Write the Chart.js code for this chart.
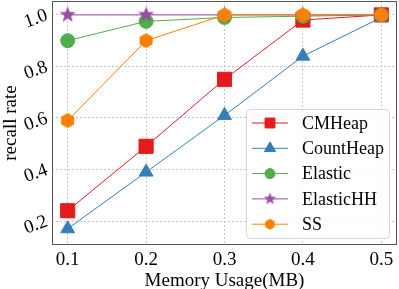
<!DOCTYPE html>
<html>
<head>
<meta charset="utf-8">
<script src="https://cdn.jsdelivr.net/npm/chart.js@4/dist/chart.umd.min.js"></script>
<style>
  html, body { margin: 0; padding: 0; background: #fff; }
  #wrap { width: 399px; height: 289px; }
</style>
</head>
<body>
<div id="wrap"><canvas id="myChart" width="399" height="289"></canvas></div>
<script>
// datos
const memory = [0.1, 0.2, 0.3, 0.4, 0.5];
const xTicks = [0.1, 0.2, 0.3, 0.4, 0.5];
const yTicks = [0.2, 0.4, 0.6, 0.8, 1.0];
const cmHeap = [0.24, 0.49, 0.75, 0.98, 1.0];
const countHeap = [0.17, 0.39, 0.61, 0.84, 0.99];
const elastic = [0.90, 0.975, 0.99, 0.995, 1.0];
const elasticHH = [1.0, 1.0, 1.0, 1.0, 1.0];
const ss = [0.59, 0.90, 1.0, 1.0, 1.0];

const serif = '"Liberation Serif", "DejaVu Serif", serif';

// marcadores rellenos como en matplotlib (estrella y hexagono)
function polyImage(color, r, n, inner) {
  const c = document.createElement('canvas');
  c.width = c.height = Math.ceil(r * 2 + 2);
  const g = c.getContext('2d');
  const cx = c.width / 2;
  g.fillStyle = color;
  g.beginPath();
  const k = inner ? n * 2 : n;
  for (let i = 0; i < k; i++) {
    const rad = inner && i % 2 === 1 ? r * inner : r;
    const a = -Math.PI / 2 + i * 2 * Math.PI / k;
    const px = cx + rad * Math.cos(a), py = cx + rad * Math.sin(a);
    if (i === 0) g.moveTo(px, py); else g.lineTo(px, py);
  }
  g.closePath();
  g.fill();
  return c;
}

function mk(label, data, color, style, radius, legendStyle, legendRadius, order) {
  return {
    label: label,
    data: memory.map((m, i) => ({ x: m, y: data[i] })),
    borderColor: color,
    backgroundColor: color,
    pointBackgroundColor: color,
    pointBorderColor: color,
    borderWidth: 1,
    pointStyle: style,
    pointRadius: radius,
    pointBorderWidth: 1,
    legendStyle: legendStyle,
    legendRadius: legendRadius,
    order: order
  };
}

const datasets = [
  mk('CMHeap', cmHeap, '#e41a1c', 'rect', 10, 'rect', 7, 4),
  mk('CountHeap', countHeap, '#377eb8', 'triangle', 8, 'triangle', 6.5, 3),
  mk('Elastic', elastic, '#4daf4a', 'circle', 7, 'circle', 5, 2),
  mk('ElasticHH', elasticHH, '#984ea3', polyImage('#984ea3', 8.5, 5, 0.42), 8,
     polyImage('#984ea3', 6.5, 5, 0.42), 6, 1),
  mk('SS', ss, '#ff7f00', polyImage('#ff7f00', 7.5, 6), 7,
     polyImage('#ff7f00', 5.5, 6), 5, 0)
];

// marco y leyenda dentro del area
const framePlugin = {
  id: 'frame',
  afterDraw(chart) {
    const { ctx, chartArea: a } = chart;
    ctx.save();
    ctx.strokeStyle = '#555';
    ctx.lineWidth = 1;
    ctx.strokeRect(a.left + 0.5, a.top + 0.5, a.right - a.left - 1, a.bottom - a.top - 1);

    // leyenda
    const bx = 246, by = 109, bw = 143, bh = 129;
    ctx.fillStyle = 'rgba(255,255,255,0.85)';
    ctx.strokeStyle = '#d6d6d6';
    ctx.beginPath();
    ctx.roundRect(bx + 0.5, by + 0.5, bw, bh, 4);
    ctx.fill();
    ctx.stroke();
    ctx.font = '18px ' + serif;
    ctx.textBaseline = 'middle';
    chart.data.datasets.forEach((ds, i) => {
      const y = by + 14 + i * 25.3;
      ctx.strokeStyle = ds.borderColor;
      ctx.fillStyle = ds.backgroundColor;
      ctx.lineWidth = 1;
      ctx.beginPath();
      ctx.moveTo(252, y);
      ctx.lineTo(288, y);
      ctx.stroke();
      Chart.helpers.drawPoint(ctx, {
        pointStyle: ds.legendStyle,
        radius: ds.legendRadius,
        borderWidth: 1,
        rotation: 0
      }, 270, y);
      ctx.fillStyle = '#000';
      ctx.fillText(ds.label, 302, y + 1);
    });
    ctx.restore();
  }
};

const canvas = document.getElementById('myChart');
const ctx = canvas.getContext('2d');

const chart = new Chart(ctx, {
  type: 'line',
  data: { datasets: datasets },
  options: {
    responsive: false,
    animation: false,
    layout: { autoPadding: false, padding: { top: 1, right: 2, left: 0, bottom: 0 } },
    plugins: { legend: { display: false }, tooltip: { enabled: false } },
    scales: {
      x: {
        type: 'linear',
        min: 0.08, max: 0.52,
        afterBuildTicks(s) { s.ticks = xTicks.map(v => ({ value: v })); },
        afterFit(s) { s.height = 44; s.paddingLeft = 0; s.paddingRight = 0; },
        grid: { color: '#c8c8c8', drawTicks: false },
        border: { display: false, dash: [2, 2] },
        ticks: {
          color: '#000', font: { family: serif, size: 19 }, padding: 4,
          maxRotation: 0, minRotation: 0,
          callback: v => v.toFixed(1)
        },
        title: { display: true, text: 'Memory Usage(MB)', color: '#000',
                 font: { family: serif, size: 19 }, padding: { top: 0, bottom: -3 } }
      },
      y: {
        type: 'linear',
        min: 0.107, max: 1.054,
        afterBuildTicks(s) { s.ticks = yTicks.map(v => ({ value: v })); },
        afterFit(s) { s.width = 52; s.paddingTop = 0; s.paddingBottom = 0; },
        grid: { color: '#c8c8c8', drawTicks: false },
        border: { display: false, dash: [2, 2] },
        ticks: {
          color: '#000', font: { family: serif, size: 19 }, padding: 5,
          minRotation: 20, maxRotation: 20,
          callback: v => v.toFixed(1)
        },
        title: { display: true, text: 'recall rate', color: '#000',
                 font: { family: serif, size: 19 }, padding: { top: 0, bottom: 0 } }
      }
    }
  },
  plugins: [framePlugin]
});
</script>
</body>
</html>
